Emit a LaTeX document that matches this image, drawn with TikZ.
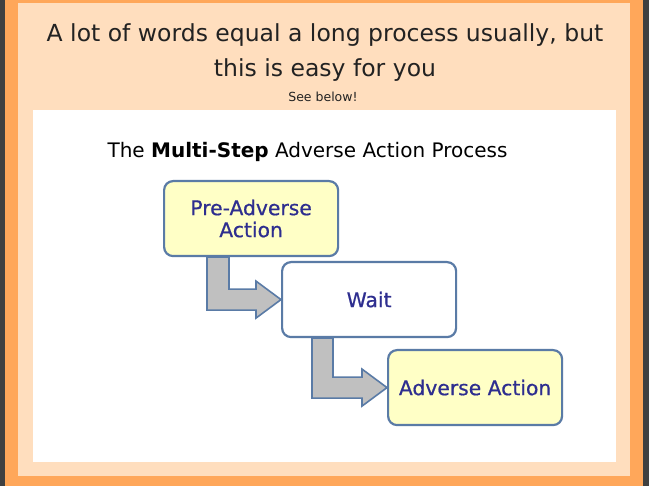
\documentclass[tikz,border=0pt]{standalone}
\usepackage{fontspec}
\setmainfont{DejaVu Sans}
\newfontfamily\boxfont[FakeBold=0.7]{DejaVu Sans}
\usetikzlibrary{calc}
\definecolor{darkedge}{HTML}{404040}
\definecolor{orangeframe}{HTML}{FFA75A}
\definecolor{peach}{HTML}{FFDEBE}
\definecolor{boxyellow}{HTML}{FFFFC6}
\definecolor{boxedge}{HTML}{5A7BA6}
\definecolor{boxtext}{HTML}{2E2E8F}
\definecolor{arrowgray}{HTML}{C0C0C0}
\definecolor{titletext}{HTML}{222222}
\tikzset{
  stepbox/.style={draw=boxedge, line width=2.2pt, rounded corners=9pt,
    minimum width=174pt, minimum height=75pt, inner sep=0pt,
    text=boxtext, font=\boxfont\fontsize{20.3}{22}\selectfont, align=center, anchor=north west},
  blockarrow/.style={draw=boxedge, fill=arrowgray, line width=1.6pt, line join=miter},
  headline/.style={text=titletext, font=\fontsize{23.5}{28}\selectfont, anchor=base, inner sep=0pt},
}
\begin{document}
\begin{tikzpicture}[x=1pt,y=-1pt]
\useasboundingbox (0,0) rectangle (649,486);
\fill[darkedge] (0,0) rectangle (649,486);
\fill[orangeframe] (5,0) rectangle (643,486);
\fill[peach] (18,3) rectangle (630,476);
\fill[white] (33,110) rectangle (616,462);
\node[headline] (title1) at (325,42) {A lot of words equal a long process usually, but};
\node[headline] (title2) at (325,77) {this is easy for you};
\node[text=titletext, font=\fontsize{12.5}{15}\selectfont] (sub) at (323,97) {See below!};
\node[text=black, font=\fontsize{20}{24}\selectfont] (dtitle) at (307.5,152)
  {The \textbf{Multi-Step} Adverse Action Process};
\coordinate (p1) at (163,180);
\coordinate (p2) at (281,261);
\coordinate (p3) at (387,349);
% invisible placeholders so the arrows can be drawn first
\path (p1) node[stepbox, draw=none, text opacity=0] (b1) {Pre-Adverse\\Action};
\path (p2) node[stepbox, draw=none, text opacity=0] (b2) {Wait};
\path (p3) node[stepbox, draw=none, text opacity=0] (b3) {Adverse Action};
\draw[blockarrow] let \p1=(b1.south west), \p2=(b2.west) in
  (\x1+44pt,\y1) -- (\x1+66pt,\y1) -- (\x1+66pt,\y2+10.5pt) -- (\x2-25pt,\y2+10.5pt)
  -- (\x2-25pt,\y2+18.5pt) -- (\x2,\y2) -- (\x2-25pt,\y2-18.5pt) -- (\x2-25pt,\y2-10.5pt)
  -- (\x1+44pt,\y2-10.5pt) -- cycle;
\draw[blockarrow] let \p1=(b2.south west), \p2=(b3.west) in
  (\x1+31pt,\y1) -- (\x1+52pt,\y1) -- (\x1+52pt,\y2+10.5pt) -- (\x2-25pt,\y2+10.5pt)
  -- (\x2-25pt,\y2+18.5pt) -- (\x2,\y2) -- (\x2-25pt,\y2-18.5pt) -- (\x2-25pt,\y2-10.5pt)
  -- (\x1+31pt,\y2-10.5pt) -- cycle;
\path (p1) node[stepbox, fill=boxyellow] (b1v) {Pre-Adverse\\Action};
\path (p2) node[stepbox, fill=white] (b2v) {Wait};
\path (p3) node[stepbox, fill=boxyellow] (b3v) {Adverse Action};
\end{tikzpicture}
\end{document}
